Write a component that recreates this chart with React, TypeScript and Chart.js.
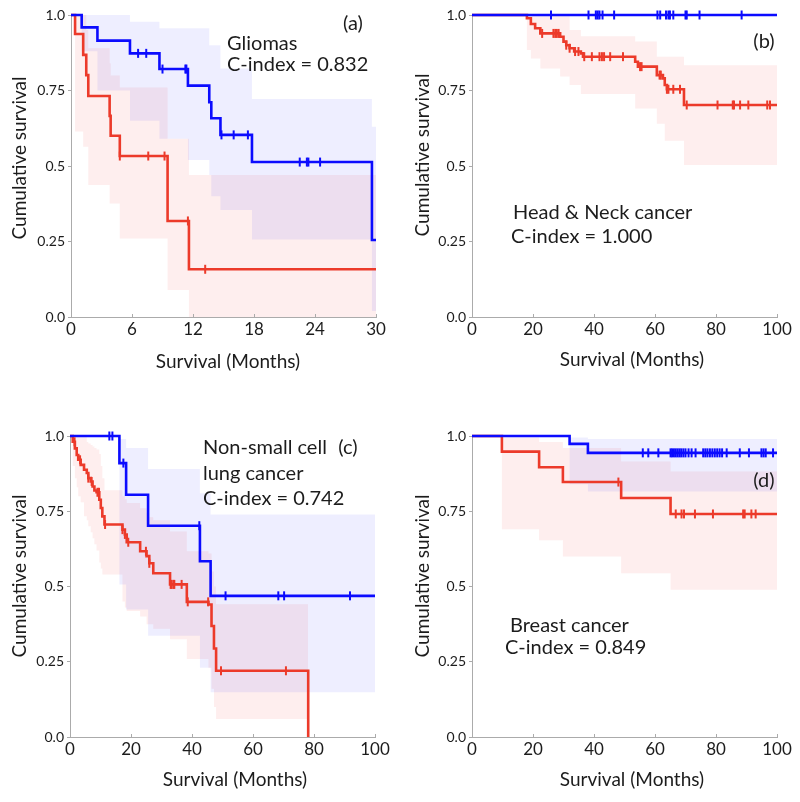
import React, { useEffect, useRef } from 'react';
import { Chart, registerables } from 'chart.js';

Chart.register(...registerables);

const FONT = 'Lato, "Open Sans", sans-serif';
const TEXT = '#1c1c1c';
const AXIS = '#ababab';
const BLUE = '#0b0bff';
const RED = '#ec3a2a';
const BLUE_BAND = 'rgba(0,0,255,0.065)';
const RED_BAND = 'rgba(240,40,40,0.08)';

// ---- tick labels ----
const yTickValues = [0, 0.25, 0.5, 0.75, 1];
const yTickLabels = ['0.0', '0.25', '0.5', '0.75', '1.0'];
const xTicksGlioma = [0, 6, 12, 18, 24, 30];
const xTicksOther = [0, 20, 40, 60, 80, 100];

// ---- (a) Gliomas ----
const aBlueTime = [0, 1.05, 2.6, 5.8, 8.7, 11.5, 13.6, 13.8, 14.7, 17.8, 29.6, 30];
const aBlueSurv = [1, 0.959, 0.915, 0.873, 0.821, 0.766, 0.711, 0.658, 0.603, 0.513, 0.255, 0.255];
const aBlueUpper = [1, 1, 1, 0.978, 0.956, 0.956, 0.9, 0.9, 0.823, 0.722, 0.63, 0.63];
const aBlueLower = [1, 0.88, 0.75, 0.65, 0.59, 0.52, 0.47, 0.4, 0.354, 0.257, 0.02, 0.02];
const aBlueCensor = [6.6, 7.4, 9.0, 11.25, 11.35, 14.8, 16.0, 17.4, 22.5, 23.2, 23.35, 24.5];

const aRedTime = [0, 0.4, 1.2, 1.5, 1.7, 3.8, 3.9, 4.8, 9.5, 11.6, 30];
const aRedSurv = [1, 0.937, 0.868, 0.801, 0.732, 0.666, 0.6, 0.533, 0.318, 0.158, 0.158];
const aRedUpper = [1, 1, 1, 0.95, 0.89, 0.84, 0.8, 0.76, 0.59, 0.47, 0.47];
const aRedLower = [1, 0.614, 0.564, 0.564, 0.437, 0.376, 0.376, 0.26, 0.089, 0, 0];
const aRedCensor = [4.8, 7.6, 9.2, 11.5, 13.2];

// ---- (b) Head & Neck ----
const bBlueTime = [0, 100];
const bBlueSurv = [1, 1];
const bBlueCensor = [25.9, 38.2, 40.6, 41.2, 41.8, 42.8, 46.6, 60.8, 61.7, 63.6, 64.4, 64.9, 66.0, 70.0, 70.4, 74.6, 88.4];

const bRedTime = [0, 18.0, 19.3, 20.7, 22.4, 28.9, 30.0, 30.9, 32.0, 33.5, 35.7, 36.4, 53.5, 54.4, 60.6, 62.6, 63.2, 63.9, 69.5, 100];
const bRedSurv = [1, 0.989, 0.97, 0.956, 0.939, 0.928, 0.912, 0.9, 0.89, 0.879, 0.873, 0.862, 0.845, 0.829, 0.801, 0.79, 0.768, 0.754, 0.702, 0.702];
const bRedUpper = [1, 1, 1, 1, 1, 1, 1, 1, 0.95, 0.95, 0.93, 0.93, 0.912, 0.912, 0.862, 0.862, 0.862, 0.862, 0.834, 0.834];
const bRedLower = [1, 0.884, 0.856, 0.856, 0.823, 0.796, 0.796, 0.796, 0.768, 0.768, 0.738, 0.738, 0.69, 0.69, 0.64, 0.64, 0.584, 0.584, 0.503, 0.503];
const bRedCensor = [23.0, 26.7, 27.3, 27.8, 28.4, 30.9, 32.0, 33.8, 34.9, 36.8, 39.3, 41.8, 42.6, 43.3, 45.3, 49.5, 55.1, 55.6, 61.5, 61.9, 63.9, 64.4, 66.0, 68.2, 70.4, 80.5, 85.5, 85.9, 87.9, 90.6, 96.8, 97.7];

// ---- (c) Non-small cell lung cancer ----
const cBlueTime = [0, 16.2, 18.4, 25.6, 42.6, 46.1, 100];
const cBlueSurv = [1, 0.91, 0.805, 0.702, 0.584, 0.469, 0.469];
const cBlueUpper = [1, 0.99, 0.96, 0.89, 0.81, 0.739, 0.739];
const cBlueLower = [1, 0.507, 0.424, 0.336, 0.23, 0.149, 0.149];
const cBlueCensor = [12.9, 13.9, 17.5, 42.4, 51.0, 68.3, 70.2, 91.8];

const cRedTime = [0, 0.9, 1.6, 2.2, 2.7, 3.5, 4.6, 5.5, 6.0, 6.8, 7.4, 8.0, 8.7, 9.6, 10.1, 10.6, 11.3, 17.2, 18.0, 18.6, 23.0, 25.1, 26.0, 27.3, 32.8, 38.3, 45.4, 46.4, 47.2, 47.9, 78.1];
const cRedSurv = [1, 0.981, 0.959, 0.937, 0.921, 0.904, 0.888, 0.877, 0.86, 0.849, 0.832, 0.819, 0.813, 0.788, 0.761, 0.733, 0.706, 0.689, 0.673, 0.647, 0.617, 0.601, 0.577, 0.544, 0.507, 0.449, 0.44, 0.369, 0.294, 0.22, 0];
const cRedUpper = [1, 1, 1, 1, 1, 1, 1, 0.98, 0.975, 0.97, 0.965, 0.96, 0.955, 0.94, 0.9, 0.86, 0.82, 0.8, 0.79, 0.777, 0.76, 0.745, 0.73, 0.72, 0.683, 0.617, 0.61, 0.55, 0.5, 0.441, 0.441];
const cRedLower = [1, 0.9, 0.86, 0.83, 0.8, 0.78, 0.733, 0.72, 0.7, 0.68, 0.66, 0.64, 0.62, 0.58, 0.56, 0.54, 0.54, 0.45, 0.43, 0.419, 0.4, 0.375, 0.375, 0.36, 0.325, 0.259, 0.23, 0.16, 0.1, 0.06, 0.06];
const cRedCensor = [1.5, 3.3, 6.0, 7.1, 9.0, 9.5, 11.5, 17.2, 18.0, 19.1, 24.9, 26.0, 33.0, 33.3, 33.9, 34.2, 36.6, 38.6, 45.3, 49.5, 70.8];

// ---- (d) Breast cancer ----
const dBlueTime = [0, 32, 38, 100];
const dBlueSurv = [1, 0.974, 0.944, 0.944];
const dBlueUpper = [1, 0.995, 0.99, 0.99];
const dBlueLower = [1, 0.84, 0.816, 0.816];
const dBlueCensor = [56, 57.8, 61.1, 65.1, 65.6, 66.2, 66.8, 67.4, 68, 68.6, 69.3, 70, 71, 72, 73.3, 75.8, 76.5, 77.2, 78, 78.8, 79.6, 80.4, 81.2, 82, 83.5, 87.8, 90.8, 94.9, 95.6, 96.3, 98.7];

const dRedTime = [0, 9.8, 22, 29.8, 48.9, 65.1, 100];
const dRedSurv = [1, 0.948, 0.896, 0.847, 0.794, 0.741, 0.741];
const dRedUpper = [1, 0.995, 0.98, 0.96, 0.915, 0.882, 0.882];
const dRedLower = [1, 0.69, 0.654, 0.6, 0.544, 0.489, 0.489];
const dRedCensor = [48.0, 66.8, 68.7, 69.5, 73.1, 79.0, 88.9, 89.4, 91.6, 93.0];

type Curve = {
  time: number[]; surv: number[]; upper?: number[]; lower?: number[]; censor: number[];
  color: string; band: string;
};
type Txt = { s: string; x: number; y: number; align: CanvasTextAlign };
type Panel = {
  left: number; top: number; xMax: number; xTicks: number[];
  pad: { top: number; right: number }; yWidth: number; xHeight: number;
  curves: Curve[]; texts: Txt[]; yTitle: [number, number]; xTitle: [number, number];
};

const W = 400;
const H = 401;

const panels: Panel[] = [
  {
    left: 0, top: 0, xMax: 30, xTicks: xTicksGlioma,
    pad: { top: 15, right: 24 }, yWidth: 71, xHeight: 84,
    curves: [
      { time: aBlueTime, surv: aBlueSurv, upper: aBlueUpper, lower: aBlueLower, censor: aBlueCensor, color: BLUE, band: BLUE_BAND },
      { time: aRedTime, surv: aRedSurv, upper: aRedUpper, lower: aRedLower, censor: aRedCensor, color: RED, band: RED_BAND },
    ],
    texts: [
      { s: '(a)', x: 353, y: 24, align: 'center' },
      { s: 'Gliomas', x: 227, y: 44, align: 'left' },
      { s: 'C-index = 0.832', x: 227, y: 65, align: 'left' },
    ],
    yTitle: [20, 158], xTitle: [228, 362],
  },
  {
    left: 400, top: 0, xMax: 100, xTicks: xTicksOther,
    pad: { top: 15, right: 23 }, yWidth: 72, xHeight: 84,
    curves: [
      { time: bBlueTime, surv: bBlueSurv, censor: bBlueCensor, color: BLUE, band: BLUE_BAND },
      { time: bRedTime, surv: bRedSurv, upper: bRedUpper, lower: bRedLower, censor: bRedCensor, color: RED, band: RED_BAND },
    ],
    texts: [
      { s: '(b)', x: 364, y: 42, align: 'center' },
      { s: 'Head & Neck cancer', x: 113, y: 213, align: 'left' },
      { s: 'C-index = 1.000', x: 111, y: 237, align: 'left' },
    ],
    yTitle: [23, 155], xTitle: [232, 360],
  },
  {
    left: 0, top: 401, xMax: 100, xTicks: xTicksOther,
    pad: { top: 35, right: 25 }, yWidth: 70, xHeight: 65,
    curves: [
      { time: cBlueTime, surv: cBlueSurv, upper: cBlueUpper, lower: cBlueLower, censor: cBlueCensor, color: BLUE, band: BLUE_BAND },
      { time: cRedTime, surv: cRedSurv, upper: cRedUpper, lower: cRedLower, censor: cRedCensor, color: RED, band: RED_BAND },
    ],
    texts: [
      { s: 'Non-small cell', x: 203, y: 47, align: 'left' },
      { s: '(c)', x: 348, y: 47, align: 'center' },
      { s: 'lung cancer', x: 203, y: 73, align: 'left' },
      { s: 'C-index = 0.742', x: 203, y: 98, align: 'left' },
    ],
    yTitle: [20, 175], xTitle: [235, 379],
  },
  {
    left: 400, top: 401, xMax: 100, xTicks: xTicksOther,
    pad: { top: 35, right: 23 }, yWidth: 72, xHeight: 65,
    curves: [
      { time: dBlueTime, surv: dBlueSurv, upper: dBlueUpper, lower: dBlueLower, censor: dBlueCensor, color: BLUE, band: BLUE_BAND },
      { time: dRedTime, surv: dRedSurv, upper: dRedUpper, lower: dRedLower, censor: dRedCensor, color: RED, band: RED_BAND },
    ],
    texts: [
      { s: '(d)', x: 364, y: 80, align: 'center' },
      { s: 'Breast cancer', x: 110, y: 225, align: 'left' },
      { s: 'C-index = 0.849', x: 105, y: 247, align: 'left' },
    ],
    yTitle: [23, 175], xTitle: [232, 379],
  },
];

function survAt(time: number[], surv: number[], t: number): number {
  let v = surv[0];
  for (let i = 0; i < time.length; i++) {
    if (time[i] <= t) v = surv[i];
  }
  return v;
}

function makePlugin(p: Panel) {
  return {
    id: 'panelDecor',
    afterDraw(chart: any) {
      const ctx: CanvasRenderingContext2D = chart.ctx;
      const area = chart.chartArea;
      const xs = chart.scales.x;
      ctx.save();
      ctx.strokeStyle = AXIS;
      ctx.lineWidth = 1;
      p.xTicks.forEach((v) => {
        if (v === 0) return;
        const x = Math.round(xs.getPixelForValue(v)) + 0.5;
        ctx.beginPath();
        ctx.moveTo(x, area.bottom);
        ctx.lineTo(x, area.bottom - 3);
        ctx.stroke();
      });
      ctx.fillStyle = TEXT;
      ctx.textBaseline = 'middle';
      ctx.font = `20px ${FONT}`;
      p.texts.forEach((t) => {
        ctx.textAlign = t.align;
        ctx.fillText(t.s, t.x, t.y);
      });
      ctx.font = `19px ${FONT}`;
      ctx.textAlign = 'center';
      ctx.fillText('Survival (Months)', p.xTitle[0], p.xTitle[1]);
      ctx.translate(p.yTitle[0], p.yTitle[1]);
      ctx.rotate(-Math.PI / 2);
      ctx.fillText('Cumulative survival', 0, 0);
      ctx.restore();
    },
  };
}

function buildChart(canvas: HTMLCanvasElement, p: Panel) {
  const datasets: any[] = [];
  p.curves.forEach((c) => {
    if (c.upper && c.lower) {
      datasets.push({
        data: c.time.map((t, i) => ({ x: t, y: c.lower![i] })),
        borderColor: 'rgba(0,0,0,0)', borderWidth: 0, pointRadius: 0, stepped: true, fill: false, order: 10,
      });
      datasets.push({
        data: c.time.map((t, i) => ({ x: t, y: c.upper![i] })),
        borderColor: 'rgba(0,0,0,0)', borderWidth: 0, pointRadius: 0, stepped: true,
        fill: '-1', backgroundColor: c.band, order: 10,
      });
    }
  });
  p.curves.forEach((c) => {
    datasets.push({
      data: c.time.map((t, i) => ({ x: t, y: c.surv[i] })),
      borderColor: c.color, borderWidth: 2.6, pointRadius: 0, stepped: true, fill: false, order: 1,
      borderCapStyle: 'butt', borderJoinStyle: 'miter', clip: 4,
    });
    datasets.push({
      data: c.censor.map((t) => ({ x: t, y: survAt(c.time, c.surv, t) })),
      showLine: false, pointStyle: 'line', rotation: 90, pointRadius: 4.5, pointBorderWidth: 2,
      pointBorderColor: c.color, borderColor: c.color, backgroundColor: c.color, order: 0, clip: false,
    });
  });

  return new Chart(canvas, {
    type: 'line',
    data: { datasets },
    plugins: [makePlugin(p)],
    options: {
      responsive: false,
      animation: false,
      devicePixelRatio: 1,
      layout: { padding: { top: p.pad.top, right: p.pad.right, left: 0, bottom: 0 } },
      plugins: { legend: { display: false }, tooltip: { enabled: false } },
      scales: {
        x: {
          type: 'linear', min: 0, max: p.xMax,
          afterFit: (s: any) => { s.height = p.xHeight; },
          afterBuildTicks: (s: any) => { s.ticks = p.xTicks.map((v) => ({ value: v })); },
          grid: { display: false, drawTicks: false, tickLength: 0 },
          border: { display: true, color: AXIS, width: 1 },
          ticks: { color: TEXT, font: { family: FONT, size: 17 }, padding: 2, maxRotation: 0, autoSkip: false },
        },
        y: {
          type: 'linear', min: 0, max: 1,
          afterFit: (s: any) => { s.width = p.yWidth; },
          afterBuildTicks: (s: any) => { s.ticks = yTickValues.map((v) => ({ value: v })); },
          grid: { display: true, drawOnChartArea: false, drawTicks: true, tickLength: 3, color: AXIS },
          border: { display: true, color: AXIS, width: 1 },
          ticks: {
            color: TEXT, font: { family: FONT, size: 14 }, padding: 3, autoSkip: false,
            callback: (v: any) => yTickLabels[yTickValues.indexOf(Number(v))],
          },
        },
      },
    } as any,
  });
}

function PanelChart({ p }: { p: Panel }) {
  const ref = useRef<HTMLCanvasElement | null>(null);
  useEffect(() => {
    if (!ref.current) return;
    const chart = buildChart(ref.current, p);
    return () => chart.destroy();
  }, [p]);
  return (
    <canvas
      ref={ref}
      width={W}
      height={H}
      style={{ position: 'absolute', left: p.left, top: p.top, width: W, height: H }}
    />
  );
}

export default function App() {
  return (
    <div style={{ position: 'absolute', left: 0, top: 0, width: 800, height: 802, background: '#fff' }}>
      {panels.map((p, i) => (
        <PanelChart key={i} p={p} />
      ))}
    </div>
  );
}
